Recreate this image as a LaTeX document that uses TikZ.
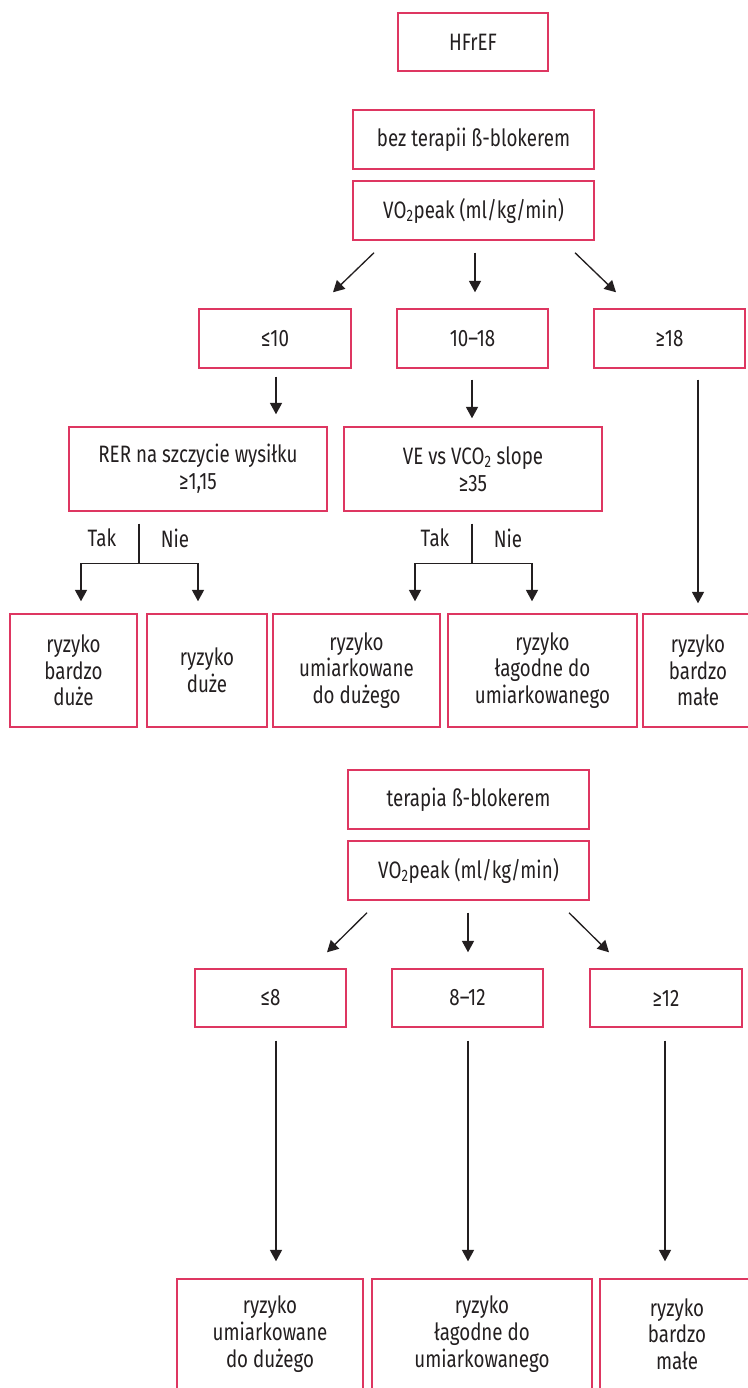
\documentclass[tikz,border=0pt]{standalone}
\usepackage{fontspec}
\setmainfont{Fira Sans}[FakeStretch=0.79]
\usetikzlibrary{calc,arrows.meta}
\definecolor{boxpink}{RGB}{222,54,97}
\definecolor{inkc}{RGB}{35,31,32}
\begin{document}
\begin{tikzpicture}[x=0.75pt,y=-0.75pt,
  txt/.style={text=inkc,font=\fontsize{17.8pt}{20pt}\selectfont},
  box/.style={txt,draw=boxpink,line width=1.1pt,inner sep=0pt,align=center},
  sz/.style 2 args={minimum width=#1*0.75pt,minimum height=#2*0.75pt},
  lbl/.style={txt,inner sep=0pt},
  conn/.style={draw=inkc,line width=1pt},
  arr/.style={conn,-{Triangle[length=8.5pt,width=9pt]}}]
\useasboundingbox (0,0) rectangle (748,1388);
\clip (0,0) rectangle (748,1388);
% ---------- section 1 ----------
\node[box,sz={150}{58}] (hfref) at (473,42) {HFrEF};
\node[box,sz={241}{59}] (bez) at (473.5,139.5) {bez terapii ß-blokerem};
\node[box,sz={241}{59}] (vo2a) at (473.5,210.5) {VO\textsubscript{2}peak (ml/kg/min)};
\node[box,sz={152}{59}] (le10) at (275,338.5) {≤10};
\node[box,sz={151}{59}] (m1018) at (472.5,338.5) {10–18};
\node[box,sz={151}{59}] (ge18) at (669.5,338.5) {≥18};
\node[box,sz={258}{84}] (rer) at (198,469) {RER na szczycie wysiłku\\≥1,15};
\node[box,sz={258}{84}] (ve) at (473,469) {VE vs VCO\textsubscript{2} slope\\≥35};
\node[box,sz={127}{113}] (r1) at (73.5,670.5) {ryzyko\\bardzo\\duże};
\node[box,sz={120}{113}] (r2) at (207,670.5) {ryzyko\\duże};
\node[box,sz={167}{113}] (r3) at (356.5,670.5) {ryzyko\\umiarkowane\\do dużego};
\node[box,sz={189}{113}] (r4) at (542.5,670.5) {ryzyko\\łagodne do\\umiarkowanego};
\node[box,sz={110}{113}] (r5) at (698,670.5) {ryzyko\\bardzo\\małe};
\draw[arr] ($(vo2a.south)+(-99.5,12)$) -- ($(le10.north)+(58,-16)$);
\draw[arr] ($(vo2a.south)+(1.5,12)$) -- ($(m1018.north)+(2.5,-16)$);
\draw[arr] ($(vo2a.south)+(101.5,12)$) -- ($(ge18.north)+(-53.5,-16)$);
\draw[arr] ($(le10.south)+(1,8)$) -- ($(le10.south |- rer.north)+(1,-12)$);
\draw[arr] ($(m1018.south)+(-0.5,11)$) -- ($(m1018.south |- ve.north)+(-0.5,-8)$);
\draw[arr] ($(r5.north |- ge18.south)+(0,11)$) -- ($(r5.north)+(0,-10)$);
% Tak / Nie under RER
\coordinate (rerfork) at ($(rer.south)+(-59,52)$);
\draw[conn] ($(rer.south)+(-59,12)$) -- (rerfork);
\draw[arr] (rerfork) -| ($(r1.north)+(7.5,-12)$);
\draw[arr] (rerfork) -| ($(r2.north)+(-9,-12)$);
\node[lbl] (tak1) at (102,538) {Tak};
\node[lbl] (nie1) at (175,538) {Nie};
% Tak / Nie under VE
\coordinate (vefork) at ($(ve.south)+(-1,52)$);
\draw[conn] ($(ve.south)+(-1,12)$) -- (vefork);
\draw[arr] (vefork) -| ($(r3.north)+(58.5,-12)$);
\draw[arr] (vefork) -| ($(r4.north)+(-10.5,-12)$);
\node[lbl] (tak2) at (435,538) {Tak};
\node[lbl] (nie2) at (508,538) {Nie};
% ---------- section 2 ----------
\node[box,sz={241}{59}] (ter) at (468.5,799.5) {terapia ß-blokerem};
\node[box,sz={241}{59}] (vo2b) at (468.5,870.5) {VO\textsubscript{2}peak (ml/kg/min)};
\node[box,sz={151}{58}] (le8) at (270.5,998) {≤8};
\node[box,sz={151}{58}] (m812) at (467.5,998) {8–12};
\node[box,sz={152}{58}] (ge12) at (666,998) {≥12};
\node[box,sz={186}{110}] (s1) at (270,1334) {ryzyko\\umiarkowane\\do dużego};
\node[box,sz={220}{110}] (s2) at (482,1334) {ryzyko\\łagodne do\\umiarkowanego};
\node[box,sz={154}{110}] (s3) at (677,1334) {ryzyko\\bardzo\\małe};
\draw[arr] ($(vo2b.south)+(-101.5,12)$) -- ($(le8.north)+(56.5,-16)$);
\draw[arr] ($(vo2b.south)+(-0.5,12)$) -- ($(m812.north)+(0.5,-16)$);
\draw[arr] ($(vo2b.south)+(100.5,12)$) -- ($(ge12.north)+(-57,-16)$);
\draw[arr] ($(le8.south)+(5.5,13)$) -- ($(le8.south |- s1.north)+(5.5,-17)$);
\draw[arr] ($(m812.south)+(0.5,13)$) -- ($(m812.south |- s2.north)+(0.5,-17)$);
\draw[arr] ($(ge12.south)+(-1,13)$) -- ($(ge12.south |- s3.north)+(-1,-17)$);
\end{tikzpicture}
\end{document}
